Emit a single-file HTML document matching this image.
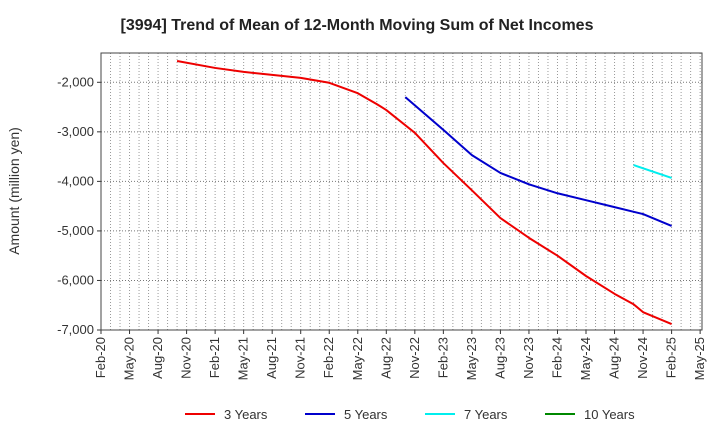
<!DOCTYPE html>
<html><head><meta charset="utf-8"><style>
body{margin:0;background:#fff;font-family:"Liberation Sans",sans-serif}
svg text{font-family:"Liberation Sans",sans-serif}
</style></head><body>
<svg id="c" width="720" height="440" xmlns="http://www.w3.org/2000/svg">
<text x="357" y="30" text-anchor="middle" font-size="16" font-weight="bold" fill="#222">[3994]  Trend of Mean of 12-Month Moving Sum of Net Incomes</text>
<text transform="translate(19,191) rotate(-90)" text-anchor="middle" font-size="14" fill="#333">Amount (million yen)</text>
<g id="grid"></g><g id="series"></g><g id="axes"></g>
<g>
<line x1="185" y1="414" x2="215" y2="414" stroke="#ee0000" stroke-width="2"/><text x="224" y="419" font-size="13" fill="#333">3 Years</text>
<line x1="305" y1="414" x2="335" y2="414" stroke="#0000cc" stroke-width="2"/><text x="344" y="419" font-size="13" fill="#333">5 Years</text>
<line x1="425" y1="414" x2="455" y2="414" stroke="#00eeee" stroke-width="2"/><text x="464" y="419" font-size="13" fill="#333">7 Years</text>
<line x1="545" y1="414" x2="575" y2="414" stroke="#008800" stroke-width="2"/><text x="584" y="419" font-size="13" fill="#333">10 Years</text>
</g>
</svg>
<script>
const xLabels=["Feb-20","May-20","Aug-20","Nov-20","Feb-21","May-21","Aug-21","Nov-21","Feb-22","May-22","Aug-22","Nov-22","Feb-23","May-23","Aug-23","Nov-23","Feb-24","May-24","Aug-24","Nov-24","Feb-25","May-25"];
const yTicks=[-2000,-3000,-4000,-5000,-6000,-7000];
const m3=[8,12,15,18,21,24,27,29,30,33,36,39,42,45,48,51,54,56,57,60];
const v3=[-1570,-1710,-1790,-1850,-1910,-2010,-2220,-2440,-2560,-3020,-3630,-4180,-4740,-5140,-5500,-5910,-6270,-6480,-6640,-6880];
const m5=[32,36,39,42,45,48,51,54,57,60];
const v5=[-2300,-2960,-3470,-3830,-4060,-4240,-4380,-4520,-4660,-4900];
const m7=[56,60];
const v7=[-3670,-3930];
const L=101,R=702,T=53,B=330;
const X=m=>L+m*9.51;
const Y=v=>82.3+(-2000-v)/1000*49.54;
const NS="http://www.w3.org/2000/svg";
function mk(t,a,p){const e=document.createElementNS(NS,t);for(const k in a)e.setAttribute(k,a[k]);p.appendChild(e);return e;}
const g=document.getElementById('grid'),ax=document.getElementById('axes'),s=document.getElementById('series');
for(let m=1;m<=63;m++){const l=mk('line',{x1:X(m),x2:X(m),y1:T,y2:B,stroke:'#999','stroke-width':1,'stroke-dasharray':'1,2'},g);

}
yTicks.forEach(v=>{const l=mk('line',{x1:L,x2:R,y1:Y(v),y2:Y(v),stroke:'#777','stroke-width':1,'stroke-dasharray':'1,2'},g);


mk('line',{x1:L-4,x2:L,y1:Y(v),y2:Y(v),stroke:'#333'},ax);
const t=mk('text',{x:L-7,y:Y(v)+4,'text-anchor':'end','font-size':13,fill:'#333'},ax);t.textContent=v.toLocaleString('en-US');

});
xLabels.forEach((lab,i)=>{const x=X(i*3);
mk('line',{x1:x,x2:x,y1:B,y2:B+4,stroke:'#333'},ax);
const t=mk('text',{transform:`translate(${x+4},${B+7}) rotate(-90)`,'text-anchor':'end','font-size':13,fill:'#333'},ax);t.textContent=lab;

});
const fr=mk('rect',{x:L,y:T,width:R-L,height:B-T,fill:'none',stroke:'#444','stroke-width':1},ax);


function line(ms,vs,col,name){const p=mk('polyline',{points:ms.map((m,i)=>X(m)+','+Y(vs[i])).join(' '),fill:'none',stroke:col,'stroke-width':2,'stroke-linejoin':'round'},s);

}
line(m3,v3,'#ee0000','series-3-years');
line(m5,v5,'#0000cc','series-5-years');
line(m7,v7,'#00eeee','series-7-years');
</script>
</body></html>
